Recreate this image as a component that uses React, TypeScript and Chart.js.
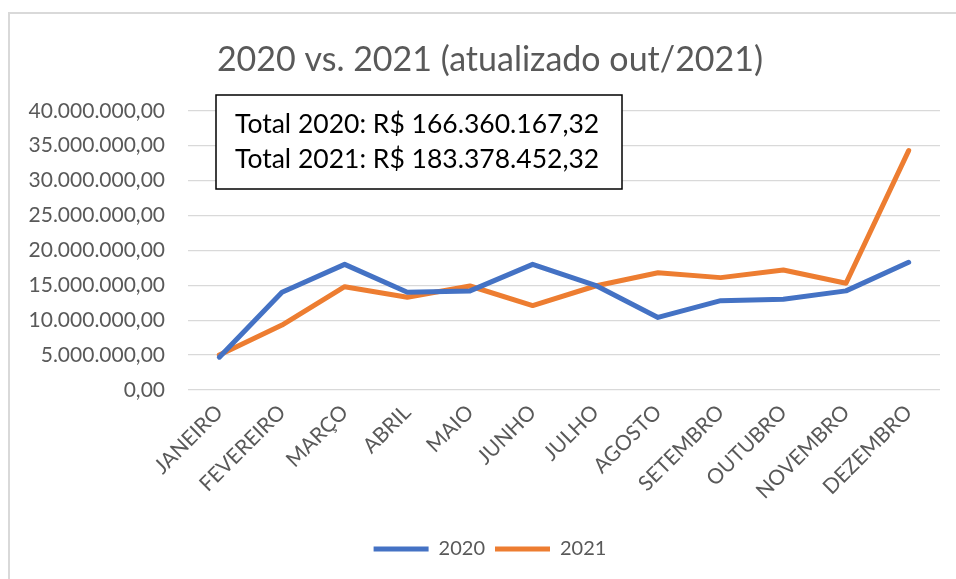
import React, { useEffect, useRef } from "react";
import { Chart, registerables } from "chart.js";

Chart.register(...registerables);

const TITLE = "2020 vs. 2021 (atualizado out/2021)";
const MONTHS = [
  "JANEIRO",
  "FEVEREIRO",
  "MARÇO",
  "ABRIL",
  "MAIO",
  "JUNHO",
  "JULHO",
  "AGOSTO",
  "SETEMBRO",
  "OUTUBRO",
  "NOVEMBRO",
  "DEZEMBRO",
];
const SERIES_2020 = [
  4700000, 14000000, 18000000, 14000000, 14200000, 18000000, 15000000, 10400000,
  12800000, 13000000, 14200000, 18300000,
];
const SERIES_2021 = [
  5000000, 9300000, 14800000, 13300000, 14900000, 12100000, 14900000, 16800000,
  16100000, 17200000, 15300000, 34300000,
];
const LABEL_2020 = "2020";
const LABEL_2021 = "2021";
const TOTAL_LINES = [
  "Total 2020: R$ 166.360.167,32",
  "Total 2021: R$ 183.378.452,32",
];
const Y_MIN = 0;
const Y_MAX = 40000000;
const Y_STEP = 5000000;

const FONT = "Lato, 'Open Sans', 'DejaVu Sans', sans-serif";
const GRAY_TEXT = "#595959";

function formatBR(v: number): string {
  const neg = v < 0;
  const abs = Math.abs(v);
  const intPart = Math.floor(abs).toString();
  const withDots = intPart.replace(/\B(?=(\d{3})+(?!\d))/g, ".");
  const dec = Math.round((abs - Math.floor(abs)) * 100)
    .toString()
    .padStart(2, "0");
  return (neg ? "-" : "") + withDots + "," + dec;
}

const totalsBoxPlugin = {
  id: "totalsBox",
  afterDraw(chart: any) {
    const ctx = chart.ctx as CanvasRenderingContext2D;
    ctx.save();
    const left = 216;
    const top = 95;
    const w = 406;
    const h = 94;
    ctx.fillStyle = "#ffffff";
    ctx.fillRect(left, top, w, h);
    ctx.strokeStyle = "#000000";
    ctx.lineWidth = 1.5;
    ctx.strokeRect(left, top, w, h);
    ctx.fillStyle = "#000000";
    ctx.font = `26.5px ${FONT}`;
    ctx.textBaseline = "middle";
    ctx.textAlign = "left";
    ctx.fillText(TOTAL_LINES[0], 235, 124);
    ctx.fillText(TOTAL_LINES[1], 235, 159);
    ctx.restore();
  },
};

export default function App() {
  const canvasRef = useRef<HTMLCanvasElement | null>(null);

  useEffect(() => {
    if (!canvasRef.current) return;
    const chart = new Chart(canvasRef.current, {
      type: "line",
      data: {
        labels: MONTHS,
        datasets: [
          {
            label: LABEL_2020,
            data: SERIES_2020,
            borderColor: "#4472C4",
            backgroundColor: "#4472C4",
            borderWidth: 5,
            pointRadius: 0,
            borderCapStyle: "round",
            borderJoinStyle: "round",
            tension: 0,
          },
          {
            label: LABEL_2021,
            data: SERIES_2021,
            borderColor: "#ED7D31",
            backgroundColor: "#ED7D31",
            borderWidth: 5,
            pointRadius: 0,
            borderCapStyle: "round",
            borderJoinStyle: "round",
            tension: 0,
          },
        ],
      },
      options: {
        responsive: false,
        animation: false,
        devicePixelRatio: 1,
        layout: { padding: { left: 40, right: 16, top: 0, bottom: 10 } },
        plugins: {
          title: {
            display: true,
            text: TITLE,
            color: GRAY_TEXT,
            font: { family: FONT, size: 34, weight: "normal" },
            padding: { top: 40, bottom: 30 },
          },
          legend: {
            display: true,
            position: "bottom",
            labels: {
              usePointStyle: true,
              pointStyle: "line",
              pointStyleWidth: 55,
              boxHeight: 20,
              color: GRAY_TEXT,
              font: { family: FONT, size: 20 },
              padding: 10,
            },
          },
          tooltip: { enabled: false },
        },
        scales: {
          x: {
            offset: true,
            grid: { display: false, drawTicks: false, offset: true },
            border: { display: false },
            ticks: {
              color: GRAY_TEXT,
              font: { family: FONT, size: 21 },
              maxRotation: 45,
              minRotation: 45,
              autoSkip: false,
              padding: 10,
            },
            afterFit(scale: any) {
              scale.height = 139;
            },
          },
          y: {
            min: Y_MIN,
            max: Y_MAX,
            grid: { color: "#d9d9d9", lineWidth: 1.3, drawTicks: false },
            border: { display: false },
            ticks: {
              stepSize: Y_STEP,
              color: GRAY_TEXT,
              font: { family: FONT, size: 21 },
              padding: 23,
              callback: (v: any) => formatBR(Number(v)),
            },
            afterFit(scale: any) {
              scale.width = 148;
              scale._computeLabelArea = () => undefined;
            },
          },
        },
      },
      plugins: [totalsBoxPlugin],
    });
    return () => chart.destroy();
  }, []);

  return (
    <div>
      <div
        style={{
          position: "fixed",
          left: 8,
          top: 12,
          width: 2000,
          height: 2000,
          borderLeft: "2px solid #d9d9d9",
          borderTop: "2px solid #d9d9d9",
          boxSizing: "border-box",
        }}
      />
      <canvas
        ref={canvasRef}
        width={956}
        height={579}
        style={{ position: "fixed", left: 0, top: 0, width: 956, height: 579 }}
      />
    </div>
  );
}
